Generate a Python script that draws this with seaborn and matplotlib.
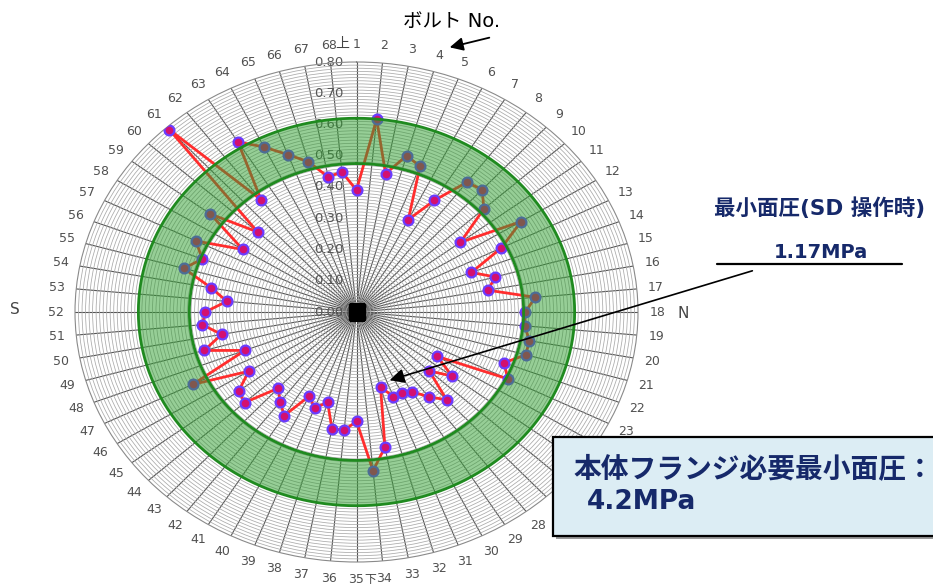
import numpy as np
import pandas as pd
import matplotlib
matplotlib.use("Agg")
import matplotlib.pyplot as plt
from matplotlib import transforms
from matplotlib.patches import Rectangle, FancyArrowPatch
from matplotlib.lines import Line2D
import seaborn as sns

# ---- data -------------------------------------------------------------
bolt_no = list(range(1, 69))
pressure = [
    0.39, 0.62, 0.45, 0.52, 0.50, 0.33, 0.42, 0.52, 0.53, 0.49,
    0.37, 0.55, 0.46, 0.35, 0.41, 0.38, 0.51, 0.48, 0.48, 0.50,
    0.50, 0.45, 0.48, 0.27, 0.34, 0.28, 0.38, 0.34, 0.30, 0.29,
    0.29, 0.25, 0.44, 0.51, 0.35, 0.38, 0.38, 0.30, 0.33, 0.30,
    0.39, 0.36, 0.33, 0.43, 0.42, 0.36, 0.52, 0.34, 0.45, 0.39,
    0.44, 0.43, 0.37, 0.42, 0.51, 0.47, 0.51, 0.38, 0.52, 0.38,
    0.79, 0.45, 0.64, 0.59, 0.54, 0.50, 0.44, 0.45,
]
band_lo, band_hi = 0.475, 0.62
r_labels = [0.00, 0.10, 0.20, 0.30, 0.40, 0.50, 0.60, 0.70, 0.80]
r_max = 0.80
# rim numbers sitting under the note box
covered_bolts = [24, 25, 26, 27]

title_text = "ボルト No."
min_title = "最小面圧(SD 操作時)"
min_value = "1.17MPa"
req_line1 = "本体フランジ必要最小面圧："
req_line2 = "4.2MPa"

# ---- styling ----------------------------------------------------------
sns.set_style("white")
plt.rcParams["font.family"] = ["DejaVu Sans", "Noto Sans CJK JP"]

W, H = 933, 588
fig = plt.figure(figsize=(W / 100, H / 100), dpi=100)


def fx(x):
    return x / W


def fy(y):
    return 1 - y / H


ax = fig.add_axes([fx(75), fy(562), 563 / W, 500 / H], projection="polar")
ax.set_aspect("auto")
ax.set_theta_zero_location("N")
ax.set_theta_direction(-1)

n = len(bolt_no)
theta = np.deg2rad((np.array(bolt_no) - 1) * 360.0 / n)

df = pd.DataFrame({
    "theta": np.append(theta, 2 * np.pi),
    "r": pressure + [pressure[0]],
})
sns.lineplot(data=df, x="theta", y="r", sort=False, estimator=None, ax=ax,
             color="#ff2d2d", lw=2, zorder=3)
sns.scatterplot(x=theta, y=pressure, ax=ax, s=50, color="#d3106f",
                edgecolor="#6a3cff", linewidth=1.6, zorder=4)

# green acceptance band drawn over the data
tt = np.linspace(0, 2 * np.pi, 721)
ax.fill_between(tt, band_lo, band_hi, color="#2f9e2f", alpha=0.5, lw=0, zorder=5)
ax.plot(tt, np.full_like(tt, band_lo), color="#1f8a1f", lw=2, zorder=6)
ax.plot(tt, np.full_like(tt, band_hi), color="#1f8a1f", lw=2, zorder=6)

# centre hub
ax.plot([0], [0], marker="s", ms=11, color="black", zorder=7)

ax.set_ylim(0, r_max)
ax.set_xticks(theta)
ax.set_xticklabels([])
ax.set_yticks(np.round(np.arange(0.01, r_max, 0.01), 2))
ax.set_yticklabels([])
ax.tick_params(length=0)
ax.xaxis.grid(True, color="#555555", lw=0.8)
ax.yaxis.grid(True, color="#a9a9a9", lw=0.55)
ax.spines["polar"].set_color("#8a8a8a")
ax.spines["polar"].set_linewidth(0.8)
ax.set_xlabel("")
ax.set_ylabel("")

# radial scale along the top spoke
off = transforms.offset_copy(ax.transData, fig=fig, x=-28, y=0, units="dots")
for v in r_labels:
    ax.text(0, v, f"{v:.2f}", transform=off, ha="center", va="center",
            fontsize=9.5, color="#555555", zorder=2)

# bolt numbers around the rim
for b, t in zip(bolt_no, theta):
    if b in covered_bolts:
        continue
    ax.text(t, 0.855, str(b), ha="center", va="center", fontsize=9,
            color="#505050", clip_on=False)

# orientation marks
fig.text(fx(342), fy(44), "上", ha="center", va="center", fontsize=10, color="#444444")
fig.text(fx(370.5), fy(580), "下", ha="center", va="center", fontsize=8.5, color="#444444")
fig.text(fx(15), fy(310), "S", ha="center", va="center", fontsize=11, color="#444444")
fig.text(fx(683), fy(313), "N", ha="center", va="center", fontsize=11, color="#444444")

# heading with arrow toward the bolt numbers
fig.text(fx(452), fy(21), title_text, ha="center", va="center", fontsize=14, color="black")
fig.add_artist(FancyArrowPatch(
    (492, H - 37), (447, H - 48), transform=None, arrowstyle="-|>",
    mutation_scale=20, color="black", lw=1.3))

# minimum pressure callout
navy = "#16296a"
fig.text(fx(820), fy(208), min_title, ha="center", va="center", fontsize=15.5,
         fontweight="bold", color=navy)
fig.text(fx(821), fy(252), min_value, ha="center", va="center", fontsize=14,
         fontweight="bold", color=navy)
fig.add_artist(Line2D([fx(717), fx(902)], [fy(264), fy(264)], color="black", lw=1.6))
fig.add_artist(FancyArrowPatch(
    (755, H - 270), (387, H - 381), transform=None, arrowstyle="-|>",
    mutation_scale=22, color="black", lw=1.2))

# required pressure box
fig.add_artist(Rectangle((fx(556), fy(539)), (W + 10 - 556) / W, 99 / H,
                         facecolor="#9a9a9a", edgecolor="none", zorder=8))
fig.add_artist(Rectangle((fx(553), fy(536)), (W + 10 - 553) / W, 99 / H,
                         facecolor="#dcedf4", edgecolor="black", lw=1.6, zorder=9))
fig.text(fx(573), fy(469), req_line1, ha="left", va="center", fontsize=20,
         fontweight="bold", color=navy, zorder=10)
fig.text(fx(587), fy(502), req_line2, ha="left", va="center", fontsize=19,
         fontweight="bold", color=navy, zorder=10)

fig.savefig("out.png", dpi=100)
